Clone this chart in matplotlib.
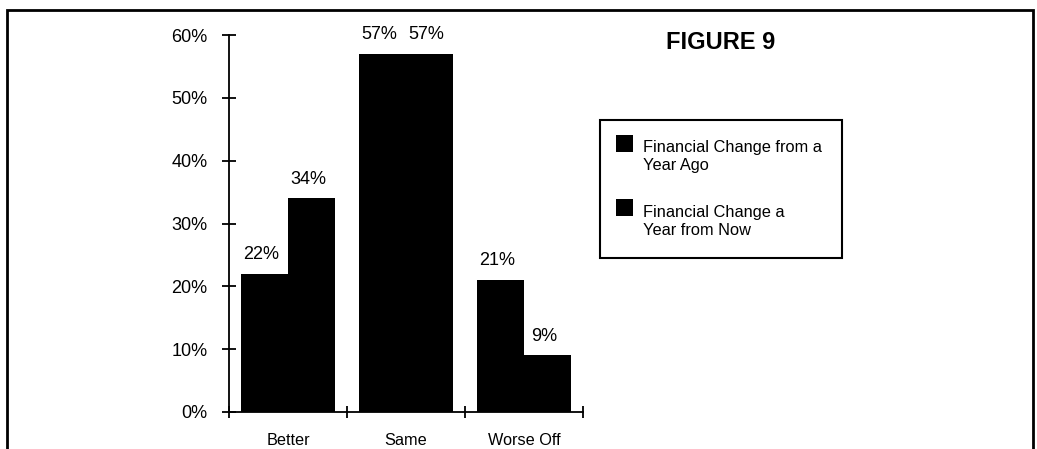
import matplotlib
matplotlib.use("Agg")
import matplotlib.pyplot as plt
from matplotlib.patches import Rectangle
from matplotlib.legend_handler import HandlerPatch
import numpy as np

plt.rcParams['font.family'] = ['Liberation Sans', 'DejaVu Sans']

categories = ["Better", "Same", "Worse Off"]
year_ago = [22, 57, 21]
year_ahead = [34, 57, 9]
series_names = ["Financial Change from a\nYear Ago", "Financial Change a\nYear from Now"]
yticks = [0, 10, 20, 30, 40, 50, 60]
title = "FIGURE 9"

W, H = 1037, 449
fig = plt.figure(figsize=(W / 100, H / 100), dpi=100)
ax = fig.add_axes([229 / W, 1 - 412 / H, (583 - 229) / W, (412 - 35) / H])

x = np.arange(len(categories))
bw = 0.4
b1 = ax.bar(x - bw / 2, year_ago, bw, color='black', label=series_names[0])
b2 = ax.bar(x + bw / 2, year_ahead, bw, color='black', label=series_names[1])

for bars, vals in ((b1, year_ago), (b2, year_ahead)):
    for rect, v in zip(bars, vals):
        ax.annotate(f"{v}%", (rect.get_x() + rect.get_width() / 2, v),
                    xytext=(-2.5, 10.5), textcoords='offset points',
                    ha='center', va='baseline', fontsize=13)

ax.set_xlim(-0.5, len(categories) - 0.5)
ax.set_ylim(0, 60)
ax.set_yticks(yticks)
ax.set_yticklabels([f"{t}%" for t in yticks])

# category boundaries carry the tick marks, centres carry the labels
ax.set_xticks(np.arange(len(categories) + 1) - 0.5)
ax.set_xticklabels([])
ax.set_xticks(x, minor=True)
ax.set_xticklabels(categories, minor=True)
ax.tick_params(axis='x', which='major', direction='inout', length=9, width=1.3)
ax.tick_params(axis='x', which='minor', length=0, pad=15, labelsize=11.7)
ax.tick_params(axis='y', direction='inout', length=10, width=1.3, pad=10.5, labelsize=13)

for side in ('top', 'right'):
    ax.spines[side].set_visible(False)
for side in ('left', 'bottom'):
    ax.spines[side].set_linewidth(1.3)

fig.text(721 / W, 1 - 49 / H, title, ha='center', va='baseline',
         fontsize=17, fontweight='bold')


def top_square(legend, orig_handle, xdescent, ydescent, width, height, fontsize):
    return Rectangle((-xdescent, 8.0), width, width)


h1, h2 = b1.patches[0], b2.patches[0]
leg = fig.legend(handles=[h1, h2], labels=series_names, loc='upper left',
                 bbox_to_anchor=(600 / W, 1 - 124 / H), borderaxespad=0,
                 fontsize=11.8, handlelength=1.03, handletextpad=0.58,
                 borderpad=1.0, labelspacing=1.9, frameon=False,
                 handler_map={h1: HandlerPatch(patch_func=top_square),
                              h2: HandlerPatch(patch_func=top_square)})
for t in leg.get_texts():
    t.set_linespacing(1.25)

# legend box
fig.add_artist(Rectangle((600 / W, 1 - 258 / H), (842 - 600) / W, (258 - 120) / H,
                         transform=fig.transFigure, fill=False,
                         edgecolor='black', linewidth=1.5))

# outer border of the figure panel
fig.add_artist(Rectangle((7 / W, -0.1), (1033 - 7) / W, 1 - 10 / H + 0.1,
                         transform=fig.transFigure, fill=False,
                         edgecolor='black', linewidth=2, clip_on=False))

fig.savefig("out.png", dpi=100)
